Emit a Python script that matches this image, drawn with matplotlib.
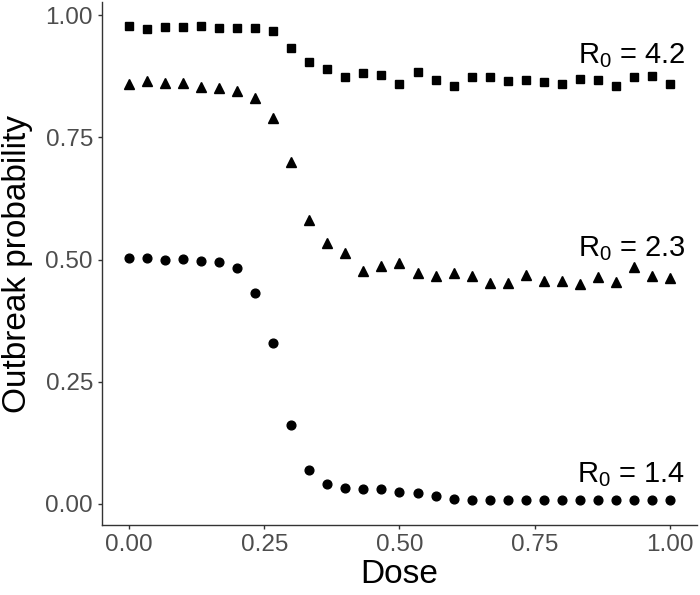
import numpy as np
import matplotlib
matplotlib.use("Agg")
import matplotlib.pyplot as plt

plt.rcParams["font.family"] = ["Liberation Sans", "DejaVu Sans"]
plt.rcParams["mathtext.fontset"] = "custom"
plt.rcParams["mathtext.rm"] = "Liberation Sans"

# dose grid: 31 points from 0 to 1
dose = np.linspace(0, 1, 31)

# outbreak probability per R0
r42 = [0.978, 0.971, 0.976, 0.975, 0.978, 0.973, 0.973, 0.973, 0.968, 0.933,
       0.905, 0.889, 0.874, 0.882, 0.878, 0.860, 0.884, 0.867, 0.856, 0.873,
       0.874, 0.865, 0.867, 0.863, 0.859, 0.870, 0.867, 0.856, 0.873, 0.876,
       0.859]
r23 = [0.859, 0.866, 0.861, 0.862, 0.854, 0.852, 0.845, 0.831, 0.790, 0.700,
       0.580, 0.534, 0.514, 0.476, 0.486, 0.492, 0.473, 0.467, 0.473, 0.466,
       0.451, 0.451, 0.469, 0.457, 0.457, 0.449, 0.464, 0.455, 0.484, 0.466,
       0.463]
r14 = [0.503, 0.503, 0.499, 0.501, 0.497, 0.496, 0.482, 0.432, 0.329, 0.161,
       0.069, 0.041, 0.033, 0.030, 0.031, 0.025, 0.022, 0.017, 0.010, 0.008,
       0.007, 0.007, 0.007, 0.007, 0.007, 0.007, 0.007, 0.007, 0.007, 0.007,
       0.007]

labels = ["4.2", "2.3", "1.4"]
label_y = [0.901, 0.507, 0.044]

fig = plt.figure(figsize=(7, 5.95), dpi=100)
ax = fig.add_axes([0.1457, 0.117, 0.85, 0.8796])

ax.plot(dose, r42, ls="none", marker="s", ms=6, color="black")
ax.plot(dose, r23, ls="none", marker="^", ms=7, color="black")
ax.plot(dose, r14, ls="none", marker="o", ms=6.3, color="black")

for lab, y in zip(labels, label_y):
    ax.text(0.929, y, r"$\mathregular{R_0}$ = " + lab, ha="center", va="baseline",
            fontsize=21, color="black")

ax.set_xlim(-0.05, 1.05)
ax.set_ylim(-0.044, 1.027)
ax.set_xticks([0, 0.25, 0.5, 0.75, 1.0])
ax.set_xticklabels(["0.00", "0.25", "0.50", "0.75", "1.00"])
ax.set_yticks([0, 0.25, 0.5, 0.75, 1.0])
ax.set_yticklabels(["0.00", "0.25", "0.50", "0.75", "1.00"])

for side in ["top", "right"]:
    ax.spines[side].set_visible(False)
for side in ["left", "bottom"]:
    ax.spines[side].set_color("#333333")
    ax.spines[side].set_linewidth(1.0)

ax.tick_params(length=3, width=1.0, color="#333333", labelcolor="#4D4D4D",
               labelsize=17.5, pad=3.5)

ax.set_xlabel("Dose", fontsize=24, color="black", labelpad=2)
ax.set_ylabel("Outbreak probability", fontsize=24, color="black", labelpad=9)

fig.savefig("out.png", dpi=100)
